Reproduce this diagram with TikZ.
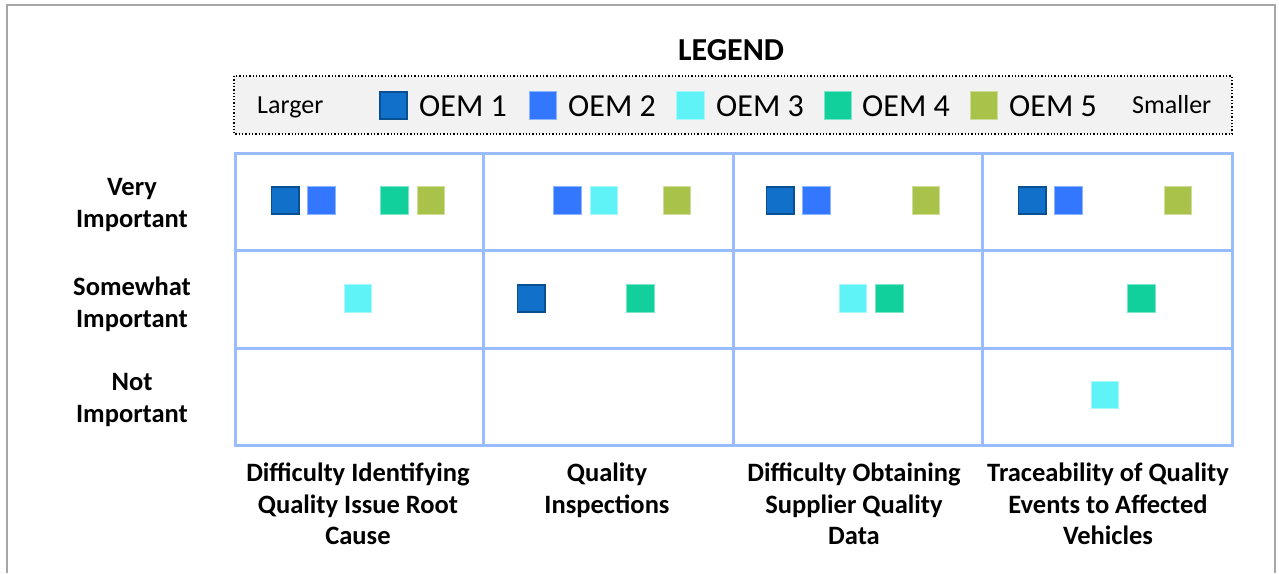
\documentclass[tikz,border=0pt]{standalone}
\usepackage{fontspec}
\setmainfont{Carlito}
\definecolor{oemA}{HTML}{1170C9}
\definecolor{oemAedge}{HTML}{0B4F93}
\definecolor{oemB}{HTML}{3377FF}
\definecolor{oemC}{HTML}{5FF2F6}
\definecolor{oemD}{HTML}{12D09C}
\definecolor{oemE}{HTML}{A8C24A}
\definecolor{gridblue}{HTML}{99BBFF}
\definecolor{framegray}{HTML}{A6A6A6}
\definecolor{legendfill}{HTML}{F2F2F2}
\tikzset{
  sq/.style={rectangle, minimum size=27.5pt, inner sep=0pt},
  oem1/.style={sq, fill=oemA, draw=oemAedge, line width=1.8pt},
  oem2/.style={sq, fill=oemB, draw=oemB!55!white, line width=0.8pt},
  oem3/.style={sq, fill=oemC, draw=oemC!55!white, line width=0.8pt},
  oem4/.style={sq, fill=oemD, draw=oemD!55!white, line width=0.8pt},
  oem5/.style={sq, fill=oemE, draw=oemE!55!white, line width=0.8pt},
  legtext/.style={anchor=base west, inner sep=0pt, font=\fontsize{32}{38}\selectfont},
  endtext/.style={anchor=base west, inner sep=0pt, font=\fontsize{26}{31}\selectfont},
  rowlabel/.style={anchor=north, inner sep=0pt, align=center, font=\bfseries\fontsize{26.5}{32}\selectfont},
  collabel/.style={anchor=north, inner sep=0pt, align=center, font=\bfseries\fontsize{26.5}{31.5}\selectfont},
  gridline/.style={draw=gridblue, line width=3pt},
}
\begin{document}
\begin{tikzpicture}[x=1pt, y=-1pt]
  \useasboundingbox (0,0) rectangle (1279,573);
  \fill[white] (0,0) rectangle (1279,573);

  % outer frame, open at the bottom
  \draw[framegray, line width=2pt] (7,573) -- (7,5) -- (1275,5) -- (1275,573);

  % legend
  \node[anchor=base, inner sep=0pt, font=\bfseries\fontsize{32}{38}\selectfont] (legtitle) at (731,60) {LEGEND};
  \draw[fill=legendfill, dotted, line width=1.3pt] (234,76) rectangle (1232,134);
  \node[endtext] (larger) at (257,113.5) {Larger};
  \node[endtext] (smaller) at (1132,113.5) {Smaller};
  \foreach \k/\sx/\tx in {1/393.5/419, 2/543/568, 3/690.5/716, 4/838/862, 5/984/1009} {
    \node[oem\k] (leg\k) at (\sx,105.5) {};
    \node[legtext] (legt\k) at (\tx,116) {OEM \k};
  }

  % rating grid
  \draw[gridline] (235,153) rectangle (1232,445);
  \foreach \gx in {483,733,982} \draw[gridline] (\gx,153) -- (\gx,445);
  \foreach \gy in {250.5,348} \draw[gridline] (235,\gy) -- (1232,\gy);

  % row labels
  \node[rowlabel] (rvery) at (132,178) {Very\\Important};
  \node[rowlabel] (rsome) at (132,277) {Somewhat\\Important};
  \node[rowlabel] (rnot)  at (132,373) {Not\\Important};

  % column labels
  \node[collabel] (croot)  at (358,463) {Difficulty Identifying\\Quality Issue Root\\Cause};
  \node[collabel] (cinsp)  at (607,463) {Quality\\Inspections};
  \node[collabel] (csupp)  at (854,463) {Difficulty Obtaining\\Supplier Quality\\Data};
  \node[collabel] (ctrace) at (1108,463) {Traceability of Quality\\Events to Affected\\Vehicles};

  % ratings: column / row / OEM
  \foreach \c/\r/\k in {1/1/1, 1/1/2, 1/1/4, 1/1/5,
                        2/1/2, 2/1/3, 2/1/5,
                        3/1/1, 3/1/2, 3/1/5,
                        4/1/1, 4/1/2, 4/1/5,
                        1/2/3, 2/2/1, 2/2/4, 3/2/3, 3/2/4, 4/2/4,
                        4/3/3} {
    \pgfmathsetmacro\cx{{358,604,853,1105}[\c-1]+(\k-3)*36.4}
    \pgfmathsetmacro\cy{{200.5,298.5,395}[\r-1]}
    \node[oem\k] (s\c\r\k) at (\cx,\cy) {};
  }
\end{tikzpicture}
\end{document}
